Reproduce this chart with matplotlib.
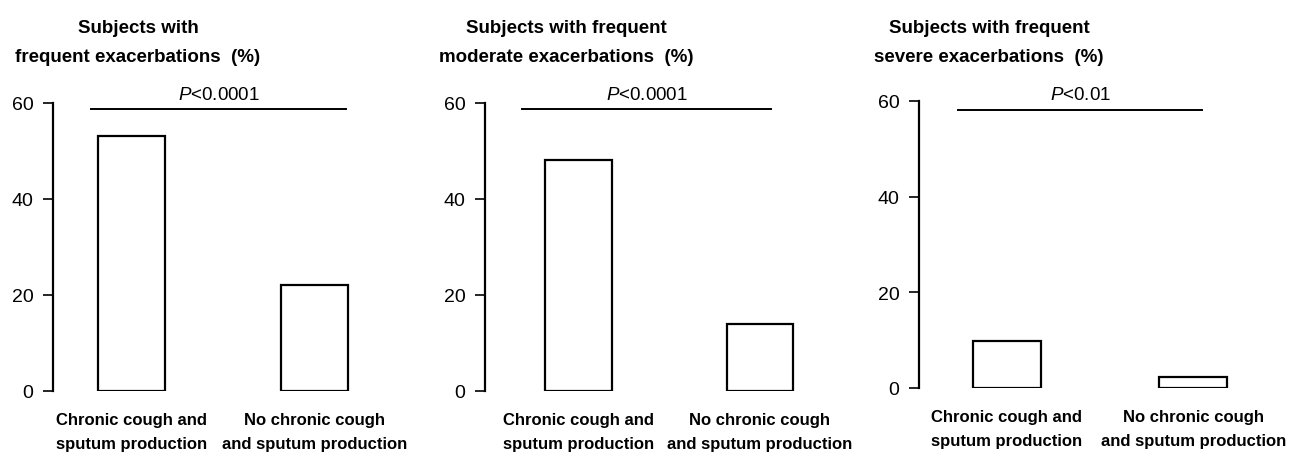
import matplotlib.pyplot as plt

plt.rcParams['font.family'] = ['Liberation Sans', 'DejaVu Sans']
plt.rcParams['mathtext.fontset'] = 'custom'
plt.rcParams['mathtext.it'] = 'Liberation Sans:italic'
plt.rcParams['mathtext.rm'] = 'Liberation Sans'

# dados
grupos = ['Chronic cough and\nsputum production', 'No chronic cough\nand sputum production']
frequentes = [53.2, 22.0]
moderadas = [48.2, 14.0]
graves = [9.8, 2.3]
titulos = ['Subjects with\nfrequent exacerbations  (%)',
           'Subjects with frequent\nmoderate exacerbations  (%)',
           'Subjects with frequent\nsevere exacerbations  (%)']
p_textos = ['$P$<0.0001', '$P$<0.0001', '$P$<0.01']
p_altura = [58.7, 58.7, 58.2]
yticks = [0, 20, 40, 60]

W, H = 1291, 460
fig = plt.figure(figsize=(W / 100, H / 100), dpi=100)

# layout em pixels: eixo x, espaçamento, deslocamento, topo, base, linha P, centro do título
paineis = [
    dict(x0=53, esp=183, off=0.43, topo=104, base=392, lin=(-0.22, 1.17), tx=138),
    dict(x0=485, esp=181.5, off=0.515, topo=104, base=392, lin=(-0.31, 1.06), tx=566),
    dict(x0=919, esp=186.5, off=0.47, topo=102, base=389, lin=(-0.26, 1.05), tx=989),
]
valores = [frequentes, moderadas, graves]

for i, p in enumerate(paineis):
    direita = 1.35
    largura = (p['off'] + direita) * p['esp']
    ax = fig.add_axes([p['x0'] / W, 1 - p['base'] / H, largura / W, (p['base'] - p['topo']) / H])
    ax.bar([0, 1], valores[i], width=0.366, color='white', edgecolor='black', linewidth=1.6)
    ax.set_xlim(-p['off'], direita)
    ax.set_ylim(0, 60)
    ax.set_yticks(yticks)
    ax.tick_params(axis='y', direction='out', length=7, width=1.2, labelsize=14, pad=7)
    ax.set_xticks([0, 1])
    ax.set_xticklabels(grupos, fontsize=12, fontweight='bold', linespacing=1.8)
    ax.tick_params(axis='x', length=0, pad=15)
    for lado in ['top', 'right', 'bottom']:
        ax.spines[lado].set_visible(False)
    ax.spines['left'].set_linewidth(1.6)

    a, b = p['lin']
    ax.plot([a, b], [p_altura[i], p_altura[i]], color='black', linewidth=1.4, clip_on=False)
    ax.text((a + b) / 2, p_altura[i] + 1.4, p_textos[i], ha='center', va='bottom',
            fontsize=13.5)

    fig.text(p['tx'] / W, 1 - 43 / H, titulos[i], ha='center', va='center',
             fontsize=13.5, fontweight='bold', linespacing=1.9)

fig.savefig('out.png', dpi=100)
